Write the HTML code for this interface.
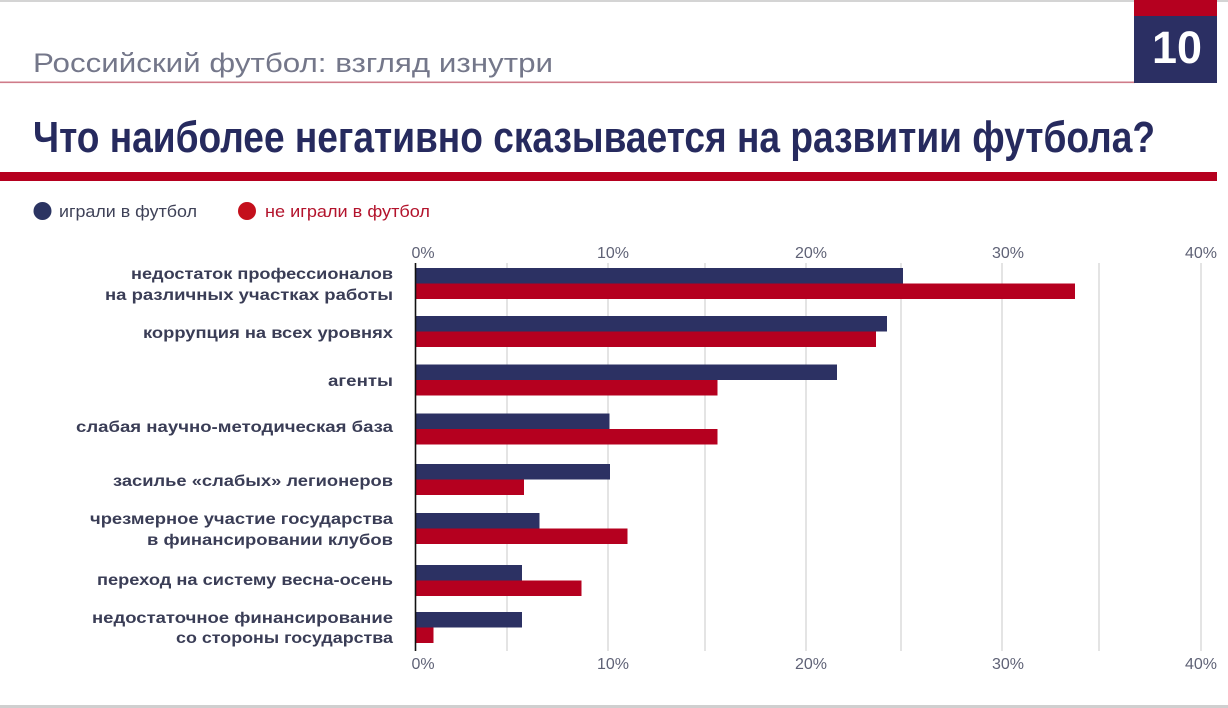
<!DOCTYPE html>
<html><head><meta charset="utf-8">
<style>
html,body{margin:0;padding:0;background:#fff;}
svg{display:block;}
text{font-family:"Liberation Sans","DejaVu Sans",sans-serif;}
</style></head>
<body>
<svg width="1228" height="708" viewBox="0 0 1228 708" xmlns="http://www.w3.org/2000/svg">
<rect x="0" y="0" width="1228" height="708" fill="#fff"/>
<!-- top border -->
<rect x="0" y="0" width="1228" height="2" fill="#d4d4d4"/>
<!-- bottom border -->
<rect x="0" y="705" width="1228" height="3" fill="#cfcfcf"/>

<!-- subtitle -->
<text x="33" y="72" font-size="27" fill="#74778a" textLength="520" lengthAdjust="spacingAndGlyphs">Российский футбол: взгляд изнутри</text>
<rect x="0" y="81.5" width="1135" height="1.6" fill="#cf7b89"/>

<!-- number box -->
<rect x="1134" y="0" width="83" height="17" fill="#b5001f"/>
<rect x="1134" y="16" width="83" height="67" fill="#2b2f63"/>
<text x="1177" y="63" font-size="45" font-weight="bold" fill="#fff" text-anchor="middle" textLength="50" lengthAdjust="spacingAndGlyphs">10</text>

<!-- title -->
<text x="33" y="152" font-size="44" font-weight="bold" fill="#262a5e" textLength="1122" lengthAdjust="spacingAndGlyphs">Что наиболее негативно сказывается на развитии футбола?</text>
<rect x="0" y="172" width="1217" height="9" fill="#b5001f"/>

<!-- legend -->
<circle cx="42.5" cy="211" r="9" fill="#2b3462"/>
<text x="59" y="217" font-size="17" fill="#3f4258" textLength="138" lengthAdjust="spacingAndGlyphs">играли в футбол</text>
<circle cx="247" cy="211" r="9" fill="#c4101c"/>
<text x="265" y="217" font-size="17" fill="#b3132c" textLength="165" lengthAdjust="spacingAndGlyphs">не играли в футбол</text>

<!-- tick labels -->
<g font-size="16" fill="#5f6276" text-anchor="middle">
<text x="423" y="258">0%</text>
<text x="613" y="258">10%</text>
<text x="811" y="258">20%</text>
<text x="1008" y="258">30%</text>
<text x="1201" y="258">40%</text>
<text x="423" y="669">0%</text>
<text x="613" y="669">10%</text>
<text x="811" y="669">20%</text>
<text x="1008" y="669">30%</text>
<text x="1201" y="669">40%</text>
</g>

<!-- gridlines -->
<g stroke="#dcdcdc" stroke-width="1.5">
<line x1="507" y1="263" x2="507" y2="651"/>
<line x1="608" y1="263" x2="608" y2="651"/>
<line x1="705" y1="263" x2="705" y2="651"/>
<line x1="806" y1="263" x2="806" y2="651"/>
<line x1="901" y1="263" x2="901" y2="651"/>
<line x1="1002" y1="263" x2="1002" y2="651"/>
<line x1="1099" y1="263" x2="1099" y2="651"/>
<line x1="1201" y1="263" x2="1201" y2="651"/>
</g>

<!-- bars -->
<g fill="#2c3163">
<rect x="416" y="268" width="487" height="15.5"/>
<rect x="416" y="316" width="471" height="15.5"/>
<rect x="416" y="364.5" width="421" height="15.5"/>
<rect x="416" y="413.5" width="193.5" height="15.5"/>
<rect x="416" y="464" width="194" height="15.5"/>
<rect x="416" y="513" width="123.5" height="15.5"/>
<rect x="416" y="565" width="106" height="15.5"/>
<rect x="416" y="612" width="106" height="15.5"/>
</g>
<g fill="#b5001f">
<rect x="416" y="283.5" width="659" height="15.5"/>
<rect x="416" y="331.5" width="460" height="15.5"/>
<rect x="416" y="380" width="301.5" height="15.5"/>
<rect x="416" y="429" width="301.5" height="15.5"/>
<rect x="416" y="479.5" width="108" height="15.5"/>
<rect x="416" y="528.5" width="211.5" height="15.5"/>
<rect x="416" y="580.5" width="165.5" height="15.5"/>
<rect x="416" y="627.5" width="17.5" height="15.5"/>
</g>

<!-- axis -->
<line x1="415.5" y1="263" x2="415.5" y2="651" stroke="#111" stroke-width="1.6"/>

<!-- category labels -->
<g font-size="16" font-weight="bold" fill="#3a3d56" text-anchor="end">
<text x="393" y="279" textLength="262" lengthAdjust="spacingAndGlyphs">недостаток профессионалов</text>
<text x="393" y="300" textLength="288" lengthAdjust="spacingAndGlyphs">на различных участках работы</text>
<text x="393" y="338" textLength="250" lengthAdjust="spacingAndGlyphs">коррупция на всех уровнях</text>
<text x="393" y="386" textLength="65" lengthAdjust="spacingAndGlyphs">агенты</text>
<text x="393" y="432" textLength="317" lengthAdjust="spacingAndGlyphs">слабая научно-методическая база</text>
<text x="393" y="486" textLength="280" lengthAdjust="spacingAndGlyphs">засилье «слабых» легионеров</text>
<text x="393" y="524" textLength="303" lengthAdjust="spacingAndGlyphs">чрезмерное участие государства</text>
<text x="393" y="545" textLength="246" lengthAdjust="spacingAndGlyphs">в финансировании клубов</text>
<text x="393" y="585" textLength="296" lengthAdjust="spacingAndGlyphs">переход на систему весна-осень</text>
<text x="393" y="623" textLength="301" lengthAdjust="spacingAndGlyphs">недостаточное финансирование</text>
<text x="393" y="643" textLength="217" lengthAdjust="spacingAndGlyphs">со стороны государства</text>
</g>
</svg>
</body></html>
